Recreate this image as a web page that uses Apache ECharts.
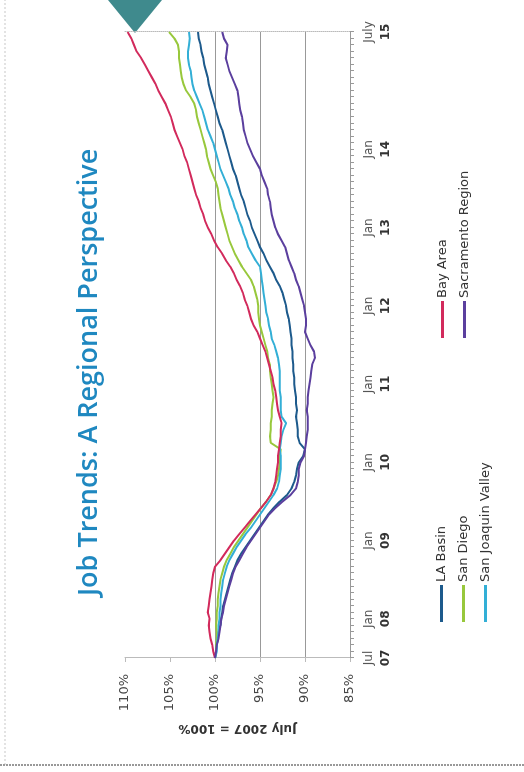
<!DOCTYPE html>
<html>
<head>
<meta charset="utf-8">
<script src="https://cdn.jsdelivr.net/npm/echarts@6/dist/echarts.min.js"></script>
<style>
  html, body { margin: 0; padding: 0; background: #fff; width: 524px; height: 772px; overflow: hidden; }
  /* the slide is laid out landscape and turned a quarter turn onto the portrait page */
  #chart {
    position: absolute; left: 0; top: 0;
    width: 772px; height: 524px;
    transform-origin: 0 0;
    transform: translate(0, 772px) rotate(-90deg);
  }
</style>
</head>
<body>
<div id="chart"></div>
<script>
// Monthly employment index, July 2007 = 100%
const months = [];
for (let y = 2007, m = 7; y < 2015 || (y === 2015 && m <= 7); ) {
  months.push(y + '-' + String(m).padStart(2, '0'));
  m++; if (m > 12) { m = 1; y++; }
}

const labelMonths = ['2007-07', '2008-01', '2009-01', '2010-01', '2011-01', '2012-01', '2013-01', '2014-01', '2015-07'];
const labelMonthText = ['Jul', 'Jan', 'Jan', 'Jan', 'Jan', 'Jan', 'Jan', 'Jan', 'July'];
const labelYearText = ['07', '08', '09', '10', '11', '12', '13', '14', '15'];

const seriesNames = ['LA Basin', 'San Diego', 'San Joaquin Valley', 'Bay Area', 'Sacramento Region'];
const seriesColors = ['#1d5a8c', '#98c83c', '#33afd6', '#d22a5c', '#5b3f9e'];

const laBasin = [
  100.0, 99.9, 99.8, 99.7, 99.6, 99.4, 99.3, 99.2, 99.1, 98.9,
  98.7, 98.5, 98.3, 98.1, 97.8, 97.5, 97.1, 96.6, 96.1, 95.6,
  95.1, 94.6, 94.1, 93.5, 92.8, 92.0, 91.5, 91.2, 91.0, 90.9,
  90.7, 90.2, 90.0, 90.6, 90.8, 90.8, 90.9, 91.0, 90.9, 91.0,
  91.0, 91.1, 91.2, 91.2, 91.3, 91.3, 91.4, 91.4, 91.5, 91.5,
  91.6, 91.7, 91.8, 92.0, 92.1, 92.3, 92.5, 92.8, 93.2, 93.5,
  93.9, 94.3, 94.6, 95.0, 95.3, 95.6, 95.9, 96.1, 96.4, 96.6,
  96.8, 97.1, 97.3, 97.5, 97.7, 98.0, 98.2, 98.4, 98.6, 98.8,
  99.0, 99.2, 99.5, 99.7, 99.9, 100.1, 100.3, 100.5, 100.7, 100.8,
  101.0, 101.2, 101.3, 101.5, 101.6, 101.8, 101.9
];
const sanDiego = [
  100.0, 99.9, 99.9, 99.8, 99.8, 99.9, 99.8, 99.8, 99.7, 99.7,
  99.6, 99.5, 99.4, 99.2, 99.0, 98.7, 98.3, 97.9, 97.4, 96.9,
  96.4, 95.9, 95.4, 94.9, 94.3, 93.8, 93.5, 93.2, 93.0, 92.9,
  92.8, 92.8, 92.7, 93.8, 93.9, 93.8, 93.8, 93.7, 93.7, 93.6,
  93.5, 93.6, 93.7, 93.8, 93.9, 93.9, 94.1, 94.2, 94.4, 94.6,
  94.8, 95.0, 95.1, 95.2, 95.2, 95.3, 95.5, 95.7, 96.0, 96.5,
  97.0, 97.4, 97.8, 98.1, 98.4, 98.6, 98.8, 99.0, 99.2, 99.4,
  99.5, 99.6, 99.7, 99.9, 100.2, 100.5, 100.7, 100.9, 101.0, 101.2,
  101.4, 101.6, 101.8, 102.0, 102.1, 102.3, 102.7, 103.2, 103.5, 103.7,
  103.8, 103.9, 104.0, 104.0, 104.1, 104.5, 105.1
];
const sanJoaquin = [
  100.0, 99.8, 99.8, 99.7, 99.6, 99.6, 99.5, 99.5, 99.4, 99.4,
  99.3, 99.2, 99.1, 98.9, 98.7, 98.4, 98.0, 97.6, 97.1, 96.6,
  96.0, 95.5, 95.0, 94.5, 94.0, 93.5, 93.1, 92.9, 92.8, 92.7,
  92.7, 92.7, 92.8, 92.7, 92.6, 92.4, 92.1, 92.6, 92.7, 92.7,
  92.7, 92.8, 92.8, 92.8, 92.8, 92.9, 93.0, 93.2, 93.4, 93.7,
  93.8, 94.0, 94.1, 94.3, 94.4, 94.5, 94.6, 94.7, 94.8, 94.9,
  95.0, 95.5, 95.9, 96.3, 96.5, 96.8, 97.0, 97.3, 97.5, 97.8,
  98.0, 98.3, 98.5, 98.8, 99.1, 99.4, 99.6, 99.8, 100.0, 100.2,
  100.5, 100.8, 101.0, 101.2, 101.4, 101.7, 102.0, 102.3, 102.5, 102.6,
  102.7, 102.9, 103.0, 103.0, 102.9, 102.8, 102.9
];
const bayArea = [
  100.0, 100.2, 100.3, 100.5, 100.6, 100.7, 100.6, 100.8, 100.7, 100.6,
  100.5, 100.4, 100.3, 100.2, 100.0, 99.4, 98.9, 98.4, 97.9, 97.3,
  96.7, 96.1, 95.5, 94.9, 94.3, 93.8, 93.5, 93.3, 93.2, 93.1,
  93.0, 93.0, 92.9, 92.8, 92.7, 92.7, 92.6, 92.8, 93.0, 93.1,
  93.2, 93.3, 93.5, 93.6, 93.8, 94.0, 94.2, 94.4, 94.7, 95.0,
  95.3, 95.7, 96.0, 96.2, 96.4, 96.7, 96.9, 97.2, 97.6, 97.9,
  98.3, 98.8, 99.2, 99.7, 100.1, 100.4, 100.8, 101.1, 101.3, 101.6,
  101.8, 102.1, 102.3, 102.5, 102.7, 102.9, 103.1, 103.4, 103.6, 103.9,
  104.2, 104.5, 104.7, 104.9, 105.2, 105.5, 105.9, 106.3, 106.6, 107.0,
  107.4, 107.8, 108.2, 108.7, 109.0, 109.3, 109.7
];
const sacramento = [
  100.0, 99.9, 99.8, 99.6, 99.5, 99.4, 99.3, 99.1, 99.0, 98.8,
  98.6, 98.4, 98.2, 98.0, 97.7, 97.3, 96.9, 96.5, 96.0, 95.5,
  95.0, 94.5, 94.0, 93.3, 92.5, 91.6, 91.0, 90.8, 90.7, 90.7,
  90.5, 90.1, 90.0, 89.9, 89.8, 89.7, 89.7, 89.7, 89.8, 89.7,
  89.7, 89.6, 89.5, 89.4, 89.3, 89.2, 88.9, 89.0, 89.4, 89.7,
  90.0, 89.9, 89.9, 90.0, 90.1, 90.3, 90.5, 90.7, 91.0, 91.2,
  91.5, 91.8, 92.0, 92.2, 92.6, 93.0, 93.3, 93.5, 93.7, 93.8,
  93.9, 94.1, 94.2, 94.5, 94.8, 95.0, 95.4, 95.8, 96.1, 96.4,
  96.6, 96.8, 96.9, 97.0, 97.2, 97.3, 97.4, 97.5, 97.8, 98.1,
  98.4, 98.6, 98.8, 98.7, 98.6, 99.0, 99.2
];
const seriesValues = [laBasin, sanDiego, sanJoaquin, bayArea, sacramento];

const yMin = 85, yMax = 110, yStep = 5;

const font = '"DejaVu Sans", sans-serif';
const chart = echarts.init(document.getElementById('chart'), null, { renderer: 'canvas' });

const legendBase = {
  orient: 'vertical', icon: 'rect',
  itemWidth: 37, itemHeight: 3, itemGap: 9,
  textStyle: { fontFamily: font, fontSize: 13, color: '#333', padding: [0, 0, 0, -2] }
};

chart.setOption({
  backgroundColor: '#fff',
  animation: false,
  title: {
    text: 'Job Trends: A Regional Perspective',
    left: 171, top: 71,
    textStyle: { fontFamily: '"Open Sans", sans-serif', fontWeight: 600, fontSize: 27, color: '#1f88c0' }
  },
  legend: [
    Object.assign({ data: seriesNames.slice(0, 3), left: 145, top: 430 }, legendBase),
    Object.assign({ data: seriesNames.slice(3), left: 429, top: 431 }, legendBase)
  ],
  grid: { left: 114, right: 32, top: 125, bottom: 174, containLabel: false },
  xAxis: {
    type: 'category',
    data: months,
    boundaryGap: false,
    axisLine: { lineStyle: { color: '#999', width: 1 } },
    axisTick: { interval: 0, length: 4, lineStyle: { color: '#999' } },
    axisLabel: {
      interval: (i, v) => labelMonths.includes(v),
      margin: 10,
      formatter: v => {
        const k = labelMonths.indexOf(v);
        return '{m|' + labelMonthText[k] + '}\n{y|' + labelYearText[k] + '}';
      },
      rich: {
        m: { fontFamily: font, fontSize: 12, color: '#555', lineHeight: 17 },
        y: { fontFamily: font, fontSize: 12, color: '#333', fontWeight: 'bold', lineHeight: 17 }
      }
    },
    splitLine: { show: false }
  },
  yAxis: [
    {
      type: 'value', min: yMin, max: yMax, interval: yStep,
      name: 'July 2007 = 100%', nameLocation: 'middle', nameGap: 64,
      nameTextStyle: { fontFamily: font, fontSize: 12, fontWeight: 'bold', color: '#333' },
      axisLine: { show: true, lineStyle: { color: '#bbb' } },
      axisTick: { show: true, length: 4, lineStyle: { color: '#bbb' } },
      axisLabel: { formatter: '{value}%', margin: 16, fontFamily: font, fontSize: 13, color: '#444' },
      splitLine: {
        show: true,
        // gridlines at 90, 95 and 100 only
        lineStyle: { color: ['rgba(0,0,0,0)', '#999', '#999', '#999', 'rgba(0,0,0,0)', 'rgba(0,0,0,0)'], width: 1 }
      }
    },
    {
      type: 'value', min: yMin, max: yMax, interval: yStep, position: 'right',
      axisLine: { show: true, lineStyle: { color: '#bbb', type: 'dotted' } },
      axisTick: { show: false }, axisLabel: { show: false }, splitLine: { show: false }
    }
  ],
  series: seriesNames.map((name, i) => ({
    name,
    type: 'line',
    data: seriesValues[i],
    symbol: 'none',
    smooth: false,
    lineStyle: { width: 2, color: seriesColors[i] },
    itemStyle: { color: seriesColors[i] },
    z: 2 + i
  })),
  graphic: [
    // slide frame
    { type: 'line', shape: { x1: 7, y1: 5, x2: 772, y2: 5 }, style: { stroke: '#c8c8c8', lineWidth: 1, lineDash: [2, 2] } },
    { type: 'line', shape: { x1: 7, y1: 0, x2: 7, y2: 524 }, style: { stroke: '#999', lineWidth: 2, lineDash: [2, 1] } },
    // section marker
    { type: 'polygon', shape: { points: [[772, 108], [772, 162], [739, 135]] }, style: { fill: '#3f8a8d' } }
  ]
});
</script>
</body>
</html>
